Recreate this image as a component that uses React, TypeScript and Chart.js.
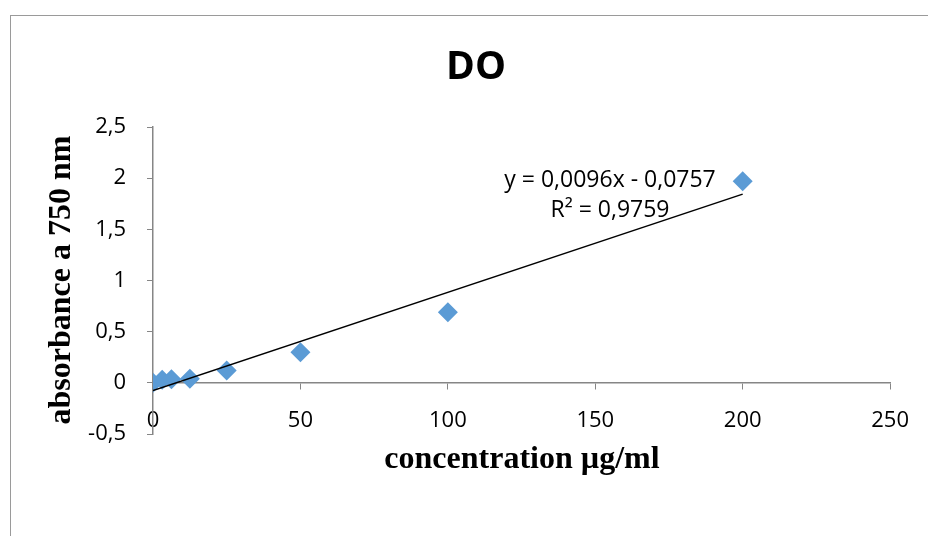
import React, { useEffect, useRef } from "react";
import { Chart, registerables } from "chart.js";

Chart.register(...registerables);

// ---- data ----
const concentrations = [0, 3.125, 6.25, 12.5, 25, 50, 100, 200];
const absorbances = [0, 0.03, 0.035, 0.04, 0.12, 0.3, 0.69, 1.97];

// Excel linear trendline (coefficients as printed on the chart)
const trendSlope = 0.0096;
const trendIntercept = -0.0757;
const trendX = [0, 200];

const xMin = 0;
const xMax = 250;
const xStep = 50;
const yMin = -0.5;
const yMax = 2.5;
const yStep = 0.5;

const chartTitle = "DO";
const xTitle = "concentration µg/ml";
const yTitle = "absorbance a 750 nm";
const equationLines = ["y = 0,0096x - 0,0757", "R² = 0,9759"];
// anchor of the equation label, in data units
const equationAnchorX = 155;
const equationAnchorY = [1.98, 1.68];

const fmt = (v: number) => String(v).replace(".", ",");

const textPlugin = {
  id: "excelTexts",
  afterDraw(chart: any) {
    const { ctx, scales } = chart;
    const xs = scales.x;
    const ys = scales.y;
    ctx.save();
    ctx.fillStyle = "#000";
    ctx.textAlign = "center";
    ctx.textBaseline = "middle";

    ctx.font = 'bold 39px "Open Sans"';
    ctx.fillText(chartTitle, 476, 68);

    ctx.font = 'bold 32px "Liberation Serif"';
    ctx.fillText(xTitle, 522, 460);

    ctx.save();
    ctx.translate(62, 280);
    ctx.rotate(-Math.PI / 2);
    ctx.fillText(yTitle, 0, 0);
    ctx.restore();

    ctx.font = '23px "Open Sans"';
    equationLines.forEach((line, i) => {
      ctx.fillText(
        line,
        xs.getPixelForValue(equationAnchorX),
        ys.getPixelForValue(equationAnchorY[i])
      );
    });
    ctx.restore();
  },
};

export default function App() {
  const canvasRef = useRef<HTMLCanvasElement | null>(null);

  useEffect(() => {
    if (!canvasRef.current) return;
    const points = concentrations.map((c, i) => ({ x: c, y: absorbances[i] }));
    const trend = trendX.map((x) => ({ x, y: trendSlope * x + trendIntercept }));
    const tickFont = { family: "Open Sans", size: 22 };
    const axisColor = "#868686";

    const chart = new Chart(canvasRef.current, {
      type: "scatter",
      data: {
        datasets: [
          {
            label: "trend",
            type: "line",
            data: trend,
            borderColor: "#000",
            borderWidth: 1.5,
            pointRadius: 0,
            fill: false,
            order: 0,
          } as any,
          {
            label: "DO",
            data: points,
            pointStyle: "rectRot",
            pointRadius: 10,
            pointHoverRadius: 10,
            backgroundColor: "#5B9BD5",
            borderColor: "#5B9BD5",
            borderWidth: 0,
            order: 1,
          },
        ],
      },
      options: {
        animation: false,
        responsive: false,
        devicePixelRatio: 1,
        layout: { padding: { left: 0, top: 127, right: 36, bottom: 102 } },
        plugins: {
          legend: { display: false },
          tooltip: { enabled: false },
          title: { display: false },
        },
        scales: {
          x: {
            type: "linear",
            position: { y: 0 } as any,
            min: xMin,
            max: xMax,
            ticks: {
              stepSize: xStep,
              font: tickFont,
              color: "#000",
              padding: 19,
              maxRotation: 0,
              callback: (v: any) => fmt(v),
            },
            grid: {
              display: true,
              drawOnChartArea: false,
              drawTicks: true,
              tickLength: 6,
              color: axisColor,
              lineWidth: 1,
            },
            border: { display: true, color: axisColor, width: 1.5 },
            afterFit: (s: any) => {
              s.height = 0;
            },
          } as any,
          y: {
            type: "linear",
            position: "left",
            min: yMin,
            max: yMax,
            ticks: {
              stepSize: yStep,
              font: tickFont,
              color: "#000",
              padding: 21,
              callback: (v: any) => fmt(v),
            },
            grid: {
              display: true,
              drawOnChartArea: false,
              drawTicks: true,
              tickLength: 6,
              color: axisColor,
              lineWidth: 1,
            },
            border: { display: true, color: axisColor, width: 1.5 },
            afterFit: (s: any) => {
              s.width = 153;
            },
          } as any,
        },
      },
      plugins: [textPlugin],
    });
    return () => chart.destroy();
  }, []);

  return (
    <div>
      <div
        style={{
          position: "absolute",
          left: 10,
          top: 15,
          width: 918,
          height: 521,
          borderTop: "1px solid #9a9a9a",
          borderLeft: "1px solid #9a9a9a",
          boxSizing: "border-box",
        }}
      />
      <div style={{ position: "absolute", left: 0, top: 0, width: 928, height: 536 }}>
        <canvas ref={canvasRef} width={928} height={536} style={{ display: "block" }} />
      </div>
    </div>
  );
}
